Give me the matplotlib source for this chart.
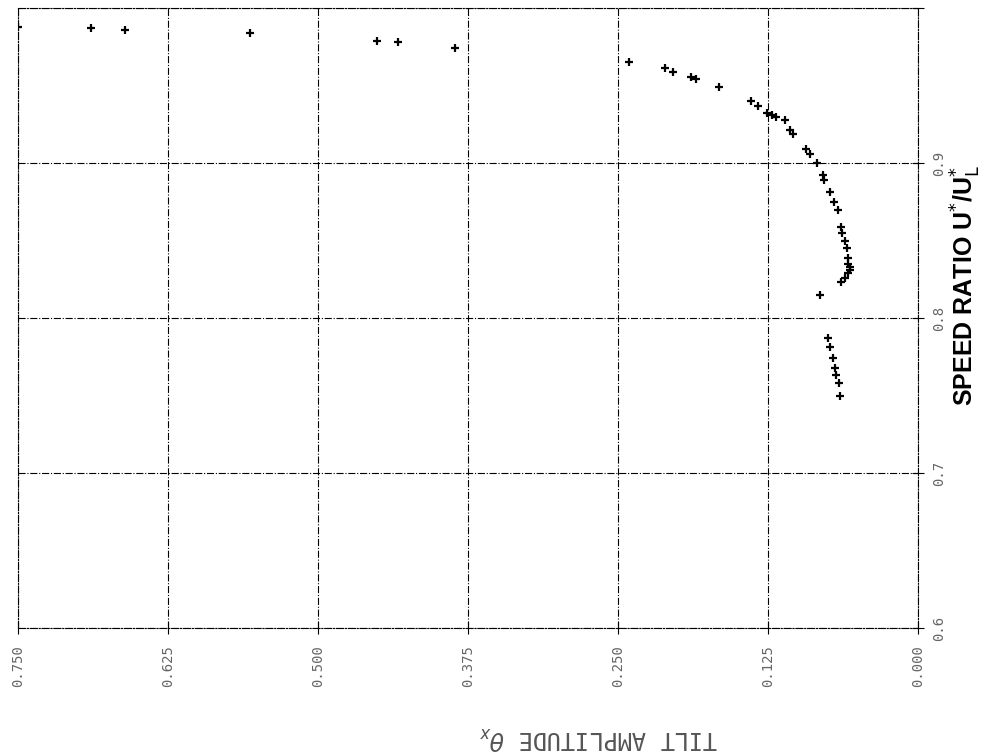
import matplotlib
matplotlib.use("Agg")
import matplotlib.pyplot as plt

theta = [0.750, 0.689, 0.661, 0.557, 0.451, 0.433, 0.386, 0.2405, 0.211, 0.204,
         0.189, 0.185, 0.166, 0.139, 0.133, 0.126, 0.122, 0.118, 0.111, 0.107,
         0.104, 0.093, 0.090, 0.084, 0.079, 0.078, 0.073, 0.070, 0.067, 0.064,
         0.063, 0.061, 0.059, 0.058, 0.058, 0.057, 0.057, 0.058, 0.061, 0.064,
         0.082, 0.075, 0.0735, 0.071, 0.069, 0.068, 0.066, 0.065]
speed = [0.988, 0.987, 0.986, 0.984, 0.979, 0.978, 0.974, 0.965, 0.961, 0.959,
         0.9555, 0.954, 0.949, 0.940, 0.937, 0.932, 0.931, 0.930, 0.928, 0.921,
         0.919, 0.909, 0.906, 0.900, 0.892, 0.889, 0.881, 0.875, 0.870, 0.859,
         0.855, 0.850, 0.845, 0.839, 0.835, 0.833, 0.831, 0.829, 0.826, 0.823,
         0.815, 0.787, 0.781, 0.774, 0.768, 0.763, 0.758, 0.750]

x_ticks = [0.750, 0.625, 0.500, 0.375, 0.250, 0.125, 0.000]
x_tick_labels = ["0.750", "0.625", "0.500", "0.375", "0.250", "0.125", "0.000"]
y_ticks = [0.6, 0.7, 0.8, 0.9, 1.0]
y_tick_labels = ["0.6", "0.7", "0.8", "0.9", ""]

fig = plt.figure(figsize=(9.94, 7.56), dpi=100)
ax = fig.add_axes([18/994, 1 - 628/756, 900/994, 620/756])
ax.plot(theta, speed, linestyle="none", marker="+", markersize=6,
        markeredgewidth=1.6, color="black")

ax.set_xlim(0.75, 0.0)
ax.set_ylim(0.6, 1.0)
ax.set_xticks(x_ticks)
ax.set_xticklabels(x_tick_labels, rotation=90, fontsize=10, color="#666666",
                   family="DejaVu Sans Mono")
ax.set_yticks(y_ticks)
ax.set_yticklabels(y_tick_labels, rotation=90, fontsize=10, color="#666666",
                   family="DejaVu Sans Mono", va="center")
ax.yaxis.tick_right()
ax.tick_params(axis="x", direction="inout", length=8, pad=8, color="black")
ax.tick_params(axis="y", direction="inout", length=8, pad=6, color="black")
ax.grid(True, linestyle="-.", color="black", linewidth=0.8)
for s in ax.spines.values():
    s.set_linestyle("-.")
    s.set_linewidth(0.8)

fig.text(598/994, 1 - 738/756, r"TILT AMPLITUDE $\theta_x$", rotation=180,
         ha="center", va="center", fontsize=17, color="#555555",
         family="DejaVu Sans Mono")
fig.text(966/994, 1 - 285/756, r"SPEED RATIO U$^{*}$/U$^{*}_{\mathrm{L}}$", rotation=90,
         ha="center", va="center", fontsize=18, fontweight="bold",
         family="Liberation Sans")

fig.savefig("out.png", dpi=100)
